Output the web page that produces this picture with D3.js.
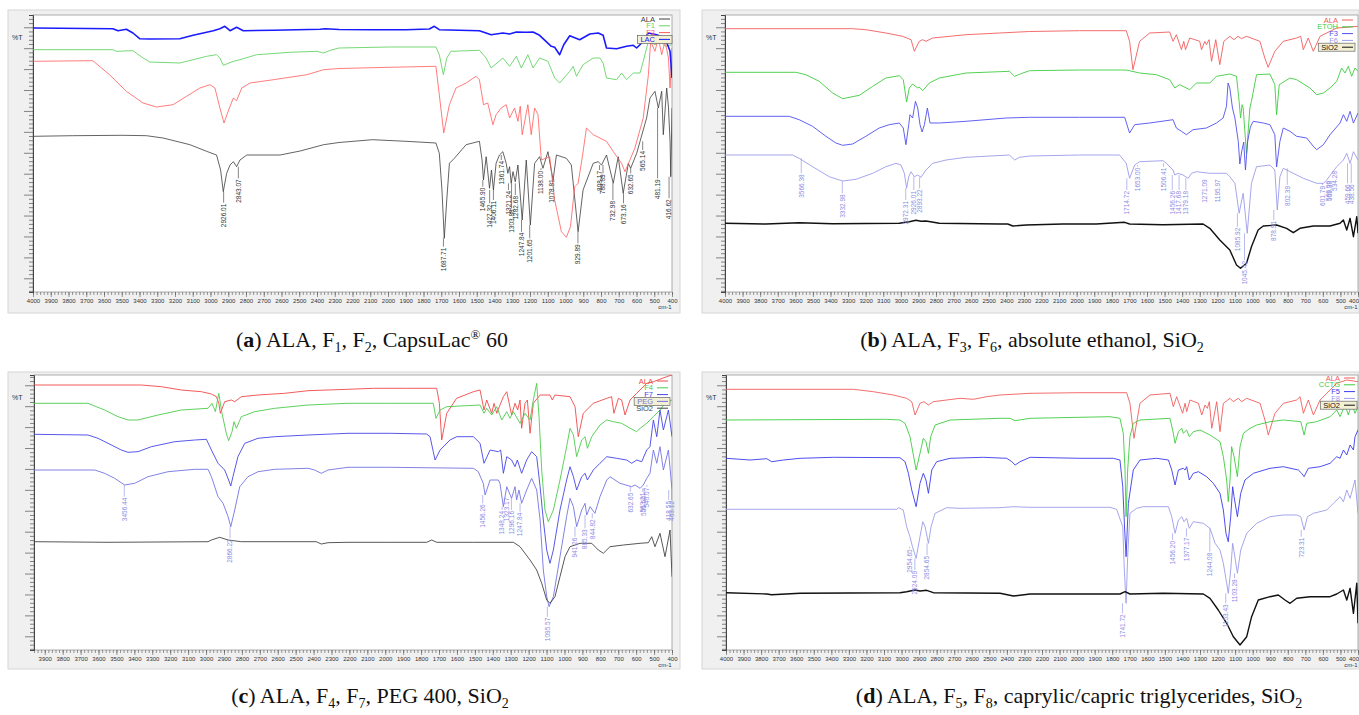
<!DOCTYPE html>
<html>
<head>
<meta charset="utf-8">
<script src="https://cdn.jsdelivr.net/npm/d3@7"></script>
<style>
  body { margin: 0; background: #fff; }
  svg { display: block; }
  text { font-family: "Liberation Sans", Arial, sans-serif; }
</style>
</head>
<body>
<svg id="fig"></svg>
<script>
// FTIR spectra, [wavenumber cm-1, %T (offset units)]

// ---- panel a ----
const aALA = [[4000,155.7],[3776,156.3],[3493,156.7],[3361,156.3],[3267,154],[3116,147.3],[3022,140.7],[2966,137],[2943,122],[2928,100.3],[2909,118.7],[2890,127],[2871,130.3],[2853,125.3],[2834,132],[2796,137],[2608,137],[2495,141],[2363,147.3],[2276,149.5],[2088,152.3],[1899,150.7],[1730,149],[1711,138.7],[1696,102],[1683,53.7],[1669,92],[1654,128.7],[1626,133.7],[1560,147.3],[1485,150.7],[1470,132],[1462,112],[1447,135.3],[1428,103.7],[1417,122],[1406,102],[1391,128.7],[1372,137],[1353,140.3],[1334,128.7],[1325,118.7],[1315,125.3],[1306,108.7],[1296,120.3],[1283,110.3],[1268,127],[1244,72],[1221,132],[1198,67],[1174,128.7],[1146,135.3],[1127,123.7],[1099,140.3],[1070,112],[1051,137],[995,133.7],[967,127],[929,60.3],[901,102],[844,128.7],[816,130.3],[797,127],[769,137],[731,108.7],[703,135.3],[675,98.7],[646,128.7],[633,123.7],[599,138.7],[580,150.7],[543,174],[524,194],[496,200.7],[477,184],[458,200.7],[449,157.3],[430,204],[420,185],[411,150.7],[407,115.3],[400,184]];
const aF1 = [[4000,242.3],[3550,242.3],[3531,240.7],[3437,241.3],[3380,234],[3342,230],[3173,229],[3098,232.3],[3022,235.7],[2966,237.3],[2947,234],[2928,226.7],[2871,230.7],[2834,232.3],[2740,237.3],[2551,239.7],[2400,240.7],[2363,239],[2325,241.7],[2276,244],[1993,245],[1730,245],[1711,237.3],[1688,217.3],[1669,234],[1645,240.7],[1485,241.7],[1447,234],[1419,224],[1353,234],[1315,225.7],[1277,235.7],[1249,224],[1212,237.3],[1183,224],[1146,234],[1099,230.7],[1061,214],[1033,209],[976,220.7],[957,225.7],[938,215.7],[901,227.3],[844,234],[806,234],[788,229],[769,214],[712,212.3],[684,219],[656,212.3],[618,219],[580,219],[562,230.7],[533,250.7],[496,247.3],[467,250.7],[439,245.7],[400,247.3]];
const aF2 = [[4000,230.7],[3663,231.3],[3569,217.3],[3474,200.7],[3380,189],[3305,185],[3211,187.3],[3135,195.7],[3060,204],[3003,207.3],[2975,204],[2947,184],[2924,169],[2894,184],[2871,194],[2853,191.3],[2824,204],[2777,209],[2645,212.3],[2457,217.3],[2363,222.3],[2276,223.5],[1993,224.7],[1730,225.7],[1711,197.3],[1686,159],[1654,187.3],[1617,204],[1560,209],[1504,215.7],[1485,212.3],[1462,187.3],[1438,189],[1409,167.3],[1391,177.3],[1362,184],[1334,187.3],[1315,174],[1287,184],[1268,170.7],[1255,185.7],[1244,157.3],[1212,187.3],[1193,157.3],[1174,184],[1155,177.3],[1136,132],[1089,135.3],[1061,92],[1023,60.3],[995,54.7],[972,65.3],[948,105.3],[929,108.7],[905,135.3],[882,164],[844,157.3],[769,150.7],[731,140.5],[684,128.7],[665,120.3],[637,132],[609,144],[562,174],[533,217.3],[520,250.7],[496,240.7],[477,254],[458,237.3],[439,250.7],[420,234],[411,204],[400,244]];
const aLAC = [[4000,264],[3550,263.3],[3521,261.3],[3474,262.7],[3437,259],[3399,253.3],[3342,253],[3173,253.3],[3098,256.7],[2984,261.3],[2947,263.3],[2919,265.7],[2890,261.3],[2853,264.7],[2815,261.3],[2645,261.7],[2382,262.7],[2353,263.3],[2276,262.5],[2088,262.3],[1899,262.3],[1767,263],[1739,265.7],[1711,262.3],[1485,261.3],[1419,257.3],[1353,259],[1315,258],[1277,260],[1221,259.7],[1183,260],[1146,256.7],[1080,245.7],[1061,244.7],[1033,237.3],[1010,247.3],[976,256.3],[920,252.3],[863,258],[816,259],[788,256.7],[769,244],[712,243.3],[656,245.7],[618,246.7],[599,244],[571,249],[533,259],[486,257.3],[439,254],[411,240.7],[400,214]];
const aLabels = [["2926.01",89.3],["2843.07",113.7],["1687.71",45.3],["1465.90",105.3],["1427.32",88.7],["1406.11",92],["1361.74",132],["1321.24",102],["1303.88",83.7],["1282.68",97],["1247.84",60.3],["1201.65",53.7],["1138.00",122],["1078.81",113.7],["929.89",48.7],["808.17",122],["788.89",118.7],["732.98",92],["673.16",88.7],["632.65",118.7],["565.14",142],["481.19",113.7],["416.62",93.7]];

// ---- panel b ----
const bALA = [[4000,263.3],[3274,263.3],[3199,262.3],[3085,259],[2990,255.7],[2942,252.3],[2923,240.7],[2895,250.7],[2876,252.3],[2857,250.7],[2819,254],[2629,257.3],[2439,259],[2268,260.5],[1984,261.3],[1718,261.3],[1699,250.7],[1680,222.3],[1642,250.7],[1585,259],[1471,260],[1452,250.7],[1433,257.3],[1404,242.3],[1391,250.7],[1381,242.3],[1357,254],[1300,250.7],[1290,242.3],[1271,250.7],[1262,247.3],[1247,252.3],[1233,230.7],[1209,252.3],[1186,227.3],[1163,250.7],[1129,255.7],[1106,252.3],[1082,255.7],[1063,253.3],[1034,255.7],[958,250.7],[930,234],[911,224.7],[873,240.7],[825,250.7],[749,254],[726,255.7],[711,242.3],[683,254],[654,240.7],[616,255.7],[521,264],[464,264.7],[400,265.7]];
const bETOH = [[4000,219.7],[3597,219.7],[3540,217.3],[3464,210.7],[3388,199],[3331,193.3],[3236,196.7],[3160,205.7],[3085,214],[3009,216.3],[2986,212.3],[2967,190],[2952,204],[2933,208],[2904,204],[2895,205],[2876,201.3],[2838,209],[2781,214],[2629,219],[2382,220.7],[2353,215.7],[2306,219],[2268,221.3],[1984,222],[1718,222],[1642,219],[1547,217.3],[1471,212.3],[1442,204],[1414,207.3],[1376,204],[1357,202.3],[1319,209],[1243,209],[1205,215.7],[1129,218],[1091,215.7],[1076,190.7],[1068,174],[1059,187.3],[1053,184],[1034,138],[1015,184],[1006,190.7],[977,217.3],[901,218],[873,207.3],[863,177.3],[848,207.3],[787,214],[749,212.3],[673,204],[635,197.3],[597,199],[559,204],[521,210.7],[493,224],[474,219],[455,225.7],[436,215.7],[417,224],[400,220.7]];
const bF3 = [[4000,175.7],[3635,175.7],[3578,172.3],[3502,165.7],[3426,155.7],[3369,149],[3331,146.7],[3274,148],[3199,155.7],[3123,164],[3066,167.3],[3009,169],[2986,164],[2971,147.3],[2955,167.3],[2948,177.3],[2933,174],[2917,190.7],[2904,184],[2891,167.3],[2879,160],[2866,167.3],[2849,184],[2834,169],[2781,169],[2629,170.7],[2401,174],[2268,174.7],[1984,174.7],[1727,174.7],[1699,159],[1670,167.3],[1585,169],[1452,172.3],[1433,164],[1404,160.7],[1376,157.3],[1338,162.3],[1262,164],[1205,169],[1167,174],[1148,185.7],[1139,209],[1129,204],[1114,184],[1100,174],[1081,150.7],[1072,128],[1062,140],[1050,150],[1040,122],[1028,150],[1012,165],[996,170.7],[939,169],[901,167.3],[873,157.3],[863,125],[844,150.7],[825,164],[787,160.7],[749,155.7],[692,154],[654,145.7],[635,142.3],[597,147.3],[559,157.3],[502,169],[483,177.3],[464,170.7],[445,180.7],[426,169],[400,179]];
const bF6 = [[4000,137],[3616,137],[3578,133.7],[3502,125.3],[3407,115.3],[3331,111],[3255,112.7],[3160,118.7],[3085,125.3],[3028,128.7],[2999,127],[2980,118.7],[2967,103.7],[2955,115.3],[2942,120.3],[2923,115.3],[2904,117],[2885,114.7],[2857,122],[2819,128.7],[2743,132],[2629,134.7],[2382,137],[2353,132],[2325,134.7],[2268,136],[1984,137],[1756,137],[1718,128.7],[1699,113.7],[1670,127],[1642,130.3],[1509,131.3],[1490,128.7],[1452,122],[1442,117],[1423,118.7],[1395,117],[1366,113.7],[1347,118.7],[1319,120.3],[1243,118.7],[1148,118.7],[1129,115.3],[1100,108.7],[1076,78.7],[1053,98.7],[1030,58.7],[1006,108.7],[977,125.3],[901,127],[873,122],[859,82],[844,115.3],[825,123.7],[768,118.7],[711,113.7],[635,108.7],[597,108.7],[578,112],[550,118.7],[521,125.3],[483,132],[464,138.7],[445,128.7],[426,140.3],[400,132]];
const bSiO2 = [[4000,68.7],[3768,68],[3578,69.3],[3388,68.3],[3009,68.7],[2952,70.3],[2914,71.7],[2885,70.7],[2857,71],[2781,68.7],[2439,68],[2392,68],[2363,66],[2287,67],[2078,68],[1889,68],[1727,69.7],[1699,68],[1509,67.3],[1281,68],[1243,63.7],[1186,52],[1129,42],[1091,27],[1068,23.7],[1034,28.7],[1006,45.3],[968,62],[939,66],[863,67],[806,63.7],[768,59.3],[730,63.7],[654,66],[559,66],[502,68.7],[483,72],[464,62],[445,73.7],[426,55.3],[407,75.3],[400,58.7]];
const bLabels = [["3566.38",118.7],["3332.98",98.7],["2972.31",92],["2926.01",102],["2893.22",103.7],["1714.72",102],["1653.00",125.3],["1506.41",125.3],["1456.26",102],["1417.68",102],["1379.18",102],["1271.09",113.7],["1195.97",113.7],["1085.92",65.3],["1045.42",32],["878.91",72],["802.39",107],["601.79",107],["569.00",112],["559.38",112],["534.28",122],["459.66",108.7],["438.56",108.7]];

// ---- panel c ----
const cALA = [[3960,265],[3361,265],[3249,263.3],[3138,260],[3026,258.3],[2970,256],[2942,253.3],[2929,246.7],[2920,236.7],[2896,248.3],[2859,250],[2840,248.3],[2803,253.3],[2710,255],[2561,256.7],[2431,259.3],[2208,260.7],[2066,261.7],[1880,261.7],[1713,261.7],[1698,246.7],[1685,210],[1657,236.7],[1602,251.7],[1508,258.3],[1471,260],[1449,240],[1434,250],[1406,236.7],[1393,246.7],[1378,236.7],[1341,253.3],[1322,258.3],[1295,235],[1276,246.7],[1261,240],[1248,250],[1239,221.7],[1220,246.7],[1207,250],[1192,216.7],[1174,246.7],[1136,255],[1081,255],[1068,250],[1053,255],[969,253.3],[941,243.3],[923,213.3],[895,236.7],[839,246.7],[764,251.7],[737,253.3],[724,236.7],[699,251.7],[681,250],[662,235],[634,250],[597,256.7],[541,266.7],[504,268.3],[430,273.3],[400,275]];
const cF4 = [[3960,246.7],[3659,246.7],[3566,240],[3491,233.3],[3435,230],[3380,230],[3268,235],[3138,240],[2989,241.7],[2967,246.7],[2948,238.3],[2929,256.7],[2911,236.7],[2887,216.7],[2874,209.3],[2855,218.3],[2844,228.3],[2831,221.7],[2803,233.3],[2729,238.3],[2617,241.7],[2431,245],[2208,246.7],[1973,246.7],[1732,246.7],[1717,231.7],[1694,240],[1657,243.3],[1471,245],[1449,236.7],[1434,241.7],[1406,235],[1378,243.3],[1350,230],[1322,238.3],[1304,231.7],[1285,238.3],[1248,226.7],[1220,236.7],[1192,230],[1174,250],[1155,266.7],[1142,233.3],[1127,180],[1109,140],[1090,128.3],[1062,140],[1025,170],[988,203.3],[969,221.7],[950,215],[932,193.3],[904,210],[885,213.3],[872,201.7],[848,213.3],[802,225],[764,230],[727,228.3],[681,226.7],[634,221.7],[597,218.3],[578,221.7],[541,226.7],[504,233.3],[467,240],[439,246.7],[400,250]];
const cF7 = [[3960,215.7],[3659,215],[3603,211.7],[3547,206.7],[3473,200],[3435,197.7],[3380,198.3],[3305,203.3],[3175,208.3],[3063,210],[2998,210.7],[2970,200],[2933,186.7],[2896,180],[2874,170],[2862,164],[2850,173.3],[2822,193.3],[2784,206.7],[2710,211.7],[2617,213.3],[2431,215],[2208,216.7],[1973,216.7],[1769,216],[1750,213.3],[1732,198.3],[1722,190],[1694,200],[1639,210],[1601,213.3],[1508,213.3],[1471,206.7],[1449,186.7],[1415,200],[1369,198.3],[1356,200],[1341,176.7],[1322,193.3],[1295,190],[1276,183.3],[1263,190],[1239,176.7],[1211,190],[1183,198.3],[1155,193.3],[1136,163.3],[1118,130],[1099,100],[1081,86.7],[1062,100],[1025,140],[988,170],[969,183.3],[950,173.3],[932,160],[904,173.3],[885,176.7],[872,170],[839,180],[802,186.7],[764,193.3],[709,191.7],[653,190],[625,186.7],[597,190],[569,188.3],[541,200],[523,203.3],[504,230],[485,213.3],[467,240],[448,220],[420,240],[400,213.3]];
const cPEG = [[3960,180],[3621,180],[3566,176.7],[3510,171.7],[3454,165],[3398,166.7],[3324,173.3],[3212,178.3],[3063,180.7],[2989,180.7],[2970,173.3],[2933,153.3],[2905,146.7],[2877,133.3],[2862,123.3],[2840,140],[2812,163.3],[2766,173.3],[2710,178.3],[2617,180.7],[2431,181.7],[2394,180],[2357,176.7],[2319,180],[2208,182.7],[1973,182.7],[1508,181.7],[1481,178.3],[1453,166.7],[1443,155],[1415,170],[1369,170],[1360,166.7],[1341,143.3],[1322,163.3],[1295,151.7],[1276,163.3],[1267,150],[1254,160],[1239,146.7],[1211,160],[1183,171.7],[1155,160],[1136,130],[1118,80],[1099,53.3],[1086,43.3],[1062,53.3],[1025,93.3],[988,133.3],[969,151.7],[950,143.3],[932,123.3],[904,140],[885,146.7],[876,135],[857,143.3],[830,136.7],[802,153.3],[764,170],[746,173.3],[690,166.7],[625,163.3],[606,165],[578,161.7],[560,165],[541,171.7],[523,176.7],[504,200],[485,186.7],[467,203.3],[448,180],[420,200],[400,160]];
const cSiO2 = [[3960,108.3],[3547,107.7],[2989,108.3],[2970,110],[2924,112.7],[2877,110],[2803,108.3],[2431,108.3],[2385,108.3],[2357,106],[2319,107.3],[2208,107.7],[1973,107.7],[1769,107.7],[1741,110],[1713,107.7],[1508,107.7],[1285,107.7],[1248,103.3],[1192,90],[1155,80],[1127,66.7],[1099,50],[1081,46.7],[1053,53.3],[1025,73.3],[997,93.3],[969,103.3],[913,106.7],[848,106.7],[811,100],[783,96.7],[746,103.3],[671,105],[578,106.7],[532,107.3],[513,113.3],[495,103.3],[467,116.7],[439,93.3],[411,120],[400,73.3]];
const cLabels = [["3456.44",153.3],["2866.22",111.7],["1456.26",146.7],["1348.24",140],["1323.17",153.3],["1296.16",140],["1247.84",138.3],["1095.57",33.3],["941.26",113.3],["885.33",121.7],["844.82",131.7],["632.65",158.3],["563.21",158.3],["555.50",155],["540.07",163.3],["418.55",150],["403.12",150]];

// ---- panel d ----
const dALA = [[4000,260.7],[3274,260.7],[3161,258.3],[3047,255],[2971,251.7],[2942,248.3],[2923,235],[2895,246.7],[2872,248.3],[2847,245],[2819,248.3],[2667,251.7],[2591,250.7],[2515,253.3],[2439,255],[2268,256.7],[1984,257.3],[1718,257.3],[1699,246.7],[1676,211.7],[1642,246.7],[1585,255],[1471,256.7],[1452,243.3],[1433,253.3],[1399,236.7],[1385,246.7],[1376,238.3],[1357,250],[1309,246.7],[1290,235],[1271,245],[1258,241.7],[1247,248.3],[1233,221.7],[1205,248.3],[1186,218.3],[1167,246.7],[1129,251.7],[1110,248.3],[1082,251.7],[1063,248.3],[1034,251.7],[958,246.7],[930,230],[911,215],[873,236.7],[825,246.7],[749,250],[730,253.3],[711,236.7],[683,250],[654,235],[616,250],[559,260],[521,266.7],[464,270],[400,268.3]];
const dCCTG = [[4000,230],[3085,230.7],[3009,230],[2980,226.7],[2952,213.3],[2938,200],[2917,180],[2895,196.7],[2876,211.7],[2861,208.3],[2847,196.7],[2834,213.3],[2809,225],[2724,230],[2439,231.7],[2382,231.7],[2353,229.3],[2268,231.7],[1984,232.7],[1813,233.3],[1756,231.7],[1737,216.7],[1727,180],[1721,133.3],[1712,180],[1699,213.3],[1680,226.7],[1642,230],[1471,231.7],[1452,216.7],[1442,206.7],[1423,218.3],[1404,221.7],[1395,216.7],[1376,220],[1361,213.3],[1338,218.3],[1300,220],[1243,215],[1186,208.3],[1167,193.3],[1148,170],[1139,148.3],[1129,170],[1120,203.3],[1106,193.3],[1087,173.3],[1072,203.3],[1053,216.7],[1015,221.7],[977,225],[901,228.3],[825,230],[726,228.3],[707,215],[692,226.7],[635,228.3],[559,233.3],[521,240],[502,233.3],[474,245],[455,235],[436,246.7],[417,236.7],[400,243.3]];
const dF5 = [[4000,191.7],[3863,190],[3768,191.3],[3740,188.3],[3673,190],[3578,191.7],[3388,192.7],[3009,192.3],[2980,188.3],[2961,176.7],[2942,160],[2917,143.3],[2895,166.7],[2876,176.7],[2861,170],[2847,156.7],[2828,180],[2800,188.3],[2724,191.7],[2534,192.7],[2401,191.7],[2372,188.3],[2353,185],[2325,188.3],[2268,192.7],[1984,191.7],[1794,191.7],[1756,190],[1740,163.3],[1729,120],[1721,93.3],[1708,146.7],[1680,180],[1642,190],[1547,191.7],[1480,190],[1461,180],[1442,165],[1423,180],[1395,181.7],[1385,180],[1376,183.3],[1361,170],[1338,176.7],[1309,178.3],[1262,173.3],[1224,166.7],[1186,156.7],[1167,140],[1152,116.7],[1139,108.3],[1125,133.3],[1114,163.3],[1106,153.3],[1087,133.3],[1068,156.7],[1044,170],[996,176.7],[901,181.7],[825,183.3],[740,180],[721,176.7],[707,173.3],[683,181.7],[616,183.3],[559,186.7],[521,193.3],[502,191.7],[483,200],[464,195],[445,205],[426,200],[417,213.3],[400,220]];
const dF8 = [[4000,140.7],[3578,140.7],[3027,140.7],[3018,142.3],[2990,140],[2971,123.3],[2952,113.3],[2938,103.3],[2917,91.7],[2895,113.3],[2879,128.3],[2866,123.3],[2847,106.7],[2832,123.3],[2809,136.7],[2743,142.3],[2667,141.7],[2439,142.3],[2363,143.3],[2268,142.7],[1984,142.7],[1813,142.7],[1775,140.7],[1740,123.3],[1731,80],[1721,46.7],[1712,93.3],[1699,136.7],[1661,141.7],[1623,143.3],[1480,143.3],[1461,133.3],[1442,116.7],[1423,130],[1404,133.3],[1391,128.3],[1376,131.7],[1361,121.7],[1338,128.3],[1281,126.7],[1243,121.7],[1214,106.7],[1186,100],[1167,86.7],[1148,66.7],[1139,56.7],[1125,80],[1114,106.7],[1106,98.3],[1087,76.7],[1068,100],[1034,116.7],[977,126.7],[901,133.3],[825,135],[749,135],[726,133.3],[707,120],[688,133.3],[654,136.7],[578,140],[540,146.7],[502,153.3],[483,148.3],[464,160],[445,151.7],[417,170],[400,136.7]];
const dSiO2 = [[4000,57.3],[3768,56],[3740,55.3],[3578,56.7],[3009,57.3],[2971,58.3],[2923,60],[2895,59],[2857,59.7],[2819,57.3],[2439,56.7],[2363,54],[2268,56],[1984,56],[1756,56],[1727,58.3],[1699,56],[1509,56.7],[1281,56],[1243,51.7],[1196,40],[1148,26.7],[1110,13.3],[1072,5],[1034,13.3],[1006,33.3],[968,50],[901,53.3],[854,55],[816,50],[787,46.7],[749,51.7],[673,53.3],[559,53.3],[521,56],[483,60],[464,50],[445,61.7],[426,36.7],[407,66.7],[400,26.7]];
const dLabels = [["2954.65",101.7],["2924.09",80],["2854.65",95],["1741.72",36.7],["1456.20",110],["1377.17",113.3],["1244.08",98.3],["1153.43",46.7],["1103.28",71.7],["723.31",113.3]];

// captions: [text, style] where style is '', 'b', 'sub' or 'sup'
const capA = [["(",""],["a","b"],[") ALA, F",""],["1","sub"],[", F",""],["2","sub"],[", CapsuLac",""],["®","sup"],[" 60",""]];
const capB = [["(",""],["b","b"],[") ALA, F",""],["3","sub"],[", F",""],["6","sub"],[", absolute ethanol, SiO",""],["2","sub"]];
const capC = [["(",""],["c","b"],[") ALA, F",""],["4","sub"],[", F",""],["7","sub"],[", PEG 400, SiO",""],["2","sub"]];
const capD = [["(",""],["d","b"],[") ALA, F",""],["5","sub"],[", F",""],["8","sub"],[", caprylic/capric triglycerides, SiO",""],["2","sub"]];

const panels = [
  { box:[8,10,680,313], plot:[33,15,672,292], dom:[4000,400],
    series:[["ALA",aALA,"#3c3c3c",0.8],["F1",aF1,"#66d466",0.9],["F2",aF2,"#ff5a5a",0.8],["LAC",aLAC,"#1a1aff",1.6]],
    boxed:"LAC", legend:[655,19], labels:aLabels, labelOf:"ALA", labelColor:"#333",
    cap:capA, capPos:[372,347], pct:[12,40] },
  { box:[702,10,1359,313], plot:[725,15,1358,292], dom:[4000,400],
    series:[["ALA",bALA,"#f25c5c",0.9],["ETOH",bETOH,"#3fcc3f",0.9],["F3",bF3,"#5050ee",0.9],["F6",bF6,"#9c9cea",0.9],["SiO2",bSiO2,"#111",1.4]],
    boxed:"SiO2", legend:[1338,20], labels:bLabels, labelOf:"F6", labelColor:"#8c8ce4",
    cap:capB, capPos:[1032,347], pct:[706,40] },
  { box:[8,372,680,669], plot:[34,375,672,650], dom:[3960,400],
    series:[["ALA",cALA,"#f04848",0.9],["F4",cF4,"#4ccc4c",0.9],["F7",cF7,"#4545e6",0.9],["PEG",cPEG,"#7474e4",0.9],["SiO2",cSiO2,"#444",0.9]],
    boxed:"PEG", legend:[653,381], labels:cLabels, labelOf:"PEG", labelColor:"#8c8ce4",
    cap:capC, capPos:[370,703], pct:[12,400] },
  { box:[702,372,1359,669], plot:[726,375,1358,650], dom:[4000,400],
    series:[["ALA",dALA,"#f25c5c",0.9],["CCTG",dCCTG,"#3fcc3f",0.9],["F5",dF5,"#3a3aee",0.9],["F8",dF8,"#9c9cea",0.9],["SiO2",dSiO2,"#111",1.4]],
    boxed:"SiO2", legend:[1340,378], labels:dLabels, labelOf:"F8", labelColor:"#8c8ce4",
    cap:capD, capPos:[1079,703], pct:[706,400] }
];

const svg = d3.select('#fig').attr('width', 1359).attr('height', 715);

panels.forEach((p, pi) => {
  const g = svg.append('g');
  const [bx0, by0, bx1, by1] = p.box;
  const [l, t, r, b] = p.plot;

  g.append('rect').attr('x', bx0).attr('y', by0).attr('width', bx1 - bx0).attr('height', by1 - by0)
    .attr('fill', '#f0f0f0').attr('stroke', '#d6d6d6');
  g.append('rect').attr('x', l).attr('y', t).attr('width', r - l).attr('height', b - t)
    .attr('fill', '#fff').attr('stroke', '#9a9a9a').attr('stroke-width', 0.8);

  const x = d3.scaleLinear().domain(p.dom).range([l, r]);
  const y = d3.scaleLinear().domain([0, b - t]).range([b, t]);

  // x axis: minor every 20, labelled every 100
  const minorX = d3.range(4000, 399, -20).filter(v => v <= p.dom[0] && v >= p.dom[1]);
  const majorX = d3.range(4000, 399, -100).filter(v => v <= p.dom[0] && v >= p.dom[1]);
  const gx1 = g.append('g').attr('transform', `translate(0,${b})`)
    .call(d3.axisBottom(x).tickValues(minorX).tickSize(3).tickFormat(''));
  const gx2 = g.append('g').attr('transform', `translate(0,${b})`)
    .call(d3.axisBottom(x).tickValues(majorX).tickSize(5).tickPadding(2).tickFormat(d3.format('d')));
  [gx1, gx2].forEach(a => {
    a.select('.domain').remove();
    a.selectAll('line').attr('stroke', '#555').attr('stroke-width', 0.6);
    a.selectAll('text').style('font-size', '6px').attr('fill', '#333');
  });
  // keep the last label inside the window when the plot runs to the edge
  gx2.selectAll('.tick text').filter(d => x(d) + 7 > 1359).attr('text-anchor', 'end').attr('x', 0.5);
  g.append('text').attr('x', r - 7).attr('y', b + 17).attr('text-anchor', 'middle')
    .style('font-size', '6px').attr('fill', '#333').text('cm-1');

  // y axis: minor ticks, every fifth a longer one
  const yt = d3.range(1.15, b - t, 4.184);
  const gy1 = g.append('g').attr('transform', `translate(${l},0)`)
    .call(d3.axisLeft(y).tickValues(yt.filter((v, i) => i % 5 !== 3)).tickSize(4).tickFormat(''));
  const gy2 = g.append('g').attr('transform', `translate(${l},0)`)
    .call(d3.axisLeft(y).tickValues(yt.filter((v, i) => i % 5 === 3)).tickSize(9).tickFormat(''));
  gy2.select('.domain').remove();
  gy1.select('.domain').attr('stroke', '#444');
  [gy1, gy2].forEach(a => a.selectAll('line').attr('stroke', '#555').attr('stroke-width', 0.7));
  g.append('text').attr('x', p.pct[0]).attr('y', p.pct[1]).style('font-size', '7px').attr('fill', '#333').text('%T');

  // curves
  const clipId = 'clip' + pi;
  svg.append('clipPath').attr('id', clipId).append('rect')
    .attr('x', l).attr('y', t).attr('width', r - l).attr('height', b - t);
  const line = d3.line().x(d => x(d[0])).y(d => y(d[1]));
  const cg = g.append('g').attr('clip-path', `url(#${clipId})`);
  const byName = {};
  p.series.forEach(([name, data, color, w]) => {
    const pts = data.slice().sort((m, n) => n[0] - m[0]);
    byName[name] = pts;
    cg.append('path').datum(pts).attr('d', line).attr('fill', 'none')
      .attr('stroke', color).attr('stroke-width', w).attr('stroke-linejoin', 'round');
  });

  // peak labels with leader lines
  const ref = byName[p.labelOf];
  p.labels.forEach(([txt, vTop]) => {
    const w = +txt;
    const near = ref.filter(d => Math.abs(d[0] - w) <= 25);
    const vPeak = near.length ? d3.min(near, d => d[1]) : null;
    const xp = Math.min(x(w), 1355);
    if (vPeak !== null && vPeak > vTop + 1) {
      g.append('line').attr('x1', xp).attr('x2', xp).attr('y1', y(vPeak)).attr('y2', y(vTop))
        .attr('stroke', p.labelColor).attr('stroke-width', 0.6);
    }
    g.append('text').attr('transform', `translate(${xp},${y(vTop) + 1}) rotate(-90)`)
      .attr('text-anchor', 'end').attr('dy', '0.35em')
      .style('font-size', '6.5px').attr('fill', p.labelColor).text(txt);
  });

  // legend
  const [lx, ly] = p.legend;
  p.series.forEach(([name, , color], i) => {
    const yy = ly + i * 6.8;
    const tx = g.append('text').attr('x', lx).attr('y', yy).attr('dy', '0.35em')
      .attr('text-anchor', 'end').style('font-size', '7.5px').attr('fill', color).text(name);
    if (name === p.boxed) {
      const tw = tx.node().getComputedTextLength();
      g.insert('rect', () => tx.node()).attr('x', lx - tw - 3).attr('y', yy - 4)
        .attr('width', tw + 20).attr('height', 8).attr('fill', '#f3f0d4').attr('stroke', '#666').attr('stroke-width', 0.7);
    }
    g.append('line').attr('x1', lx + 4).attr('x2', lx + 15).attr('y1', yy).attr('y2', yy)
      .attr('stroke', color).attr('stroke-width', 1);
  });

  // caption
  const cap = svg.append('text').attr('x', p.capPos[0]).attr('y', p.capPos[1]).attr('text-anchor', 'middle')
    .style('font-family', '"Liberation Serif", "Times New Roman", serif').style('font-size', '22px').attr('fill', '#111');
  let shift = 0;
  p.cap.forEach(([s, st]) => {
    const ts = cap.append('tspan').text(s);
    let target = 0;
    if (st === 'b') ts.style('font-weight', 'bold');
    if (st === 'sub') { ts.style('font-size', '14px'); target = 5; }
    if (st === 'sup') { ts.style('font-size', '13px'); target = -8; }
    if (target !== shift) { ts.attr('dy', target - shift); shift = target; }
  });
});
</script>
</body>
</html>
